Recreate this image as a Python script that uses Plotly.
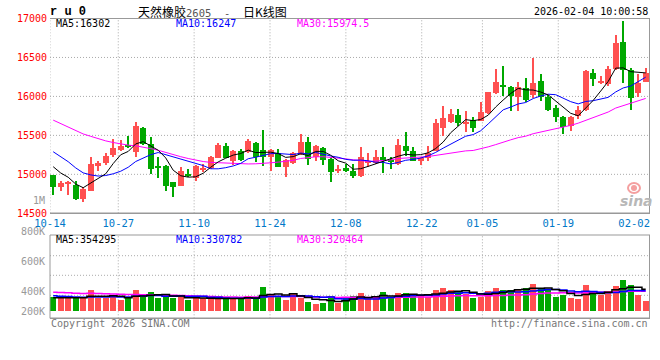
import numpy as np
import pandas as pd
import plotly.graph_objects as go

# ---------------- data ----------------
days = pd.bdate_range("2025-10-14", "2026-02-04")
days = [d for d in days if d.strftime("%Y-%m-%d") not in ("2026-01-01", "2026-01-02")]
dates = [d.strftime("%m-%d") for d in days]  # 80 trading days

open_ = [15004, 14842, 14885, 14876, 14684, 14790, 15111, 15149, 15256, 15325,
         15384, 15290, 15606, 15401, 15111, 15111, 14902, 14863, 15017, 14962,
         15068, 15085, 15218, 15376, 15184, 15312, 15290, 15414, 15320, 15226,
         15286, 15107, 15149, 15269, 15427, 15235, 15350, 15205, 15055, 15085,
         15043, 14979, 15149, 15149, 15226, 15192, 15141, 15376, 15312, 15184,
         15213, 15312, 15598, 15675, 15773, 15662, 15705, 15696, 15790, 16046,
         16157, 16131, 15995, 16114, 16029, 16208, 15995, 15858, 15747, 15632,
         15760, 15833, 16307, 16174, 16166, 16358, 16708, 16345, 16046, 16196]
high = [15004, 14927, 14927, 14927, 14842, 15226, 15184, 15282, 15461, 15453,
        15504, 15675, 15619, 15482, 15226, 15120, 14906, 15098, 15077, 15120,
        15141, 15248, 15410, 15410, 15320, 15333, 15461, 15427, 15581, 15329,
        15337, 15201, 15290, 15525, 15482, 15389, 15354, 15213, 15128, 15141,
        15141, 15354, 15282, 15320, 15363, 15226, 15461, 15555, 15363, 15226,
        15376, 15717, 15888, 15845, 15845, 15824, 15739, 15931, 16068, 16358,
        16401, 16144, 16196, 16243, 16499, 16294, 16029, 15901, 15760, 15760,
        15888, 16345, 16358, 16273, 16401, 16798, 16980, 16371, 16294, 16371]
low = [14735, 14790, 14735, 14671, 14650, 14790, 15047, 15132, 15235, 15312,
       15346, 15226, 15389, 15013, 14957, 14791, 14722, 14859, 14970, 14927,
       15034, 15077, 15213, 15213, 15132, 15184, 15278, 15162, 15111, 15047,
       15098, 14970, 15141, 15260, 15132, 15175, 15132, 14906, 15021, 15034,
       14957, 14970, 15098, 15141, 15021, 15077, 15132, 15248, 15175, 15120,
       15184, 15303, 15504, 15662, 15632, 15547, 15555, 15688, 15781, 16038,
       16016, 15824, 15816, 15939, 15986, 15952, 15824, 15675, 15525, 15568,
       15717, 15824, 16144, 16166, 16144, 16345, 16179, 15833, 16003, 16187]
close = [14842, 14898, 14906, 14684, 14812, 15141, 15149, 15248, 15342, 15376,
         15354, 15632, 15397, 15073, 15090, 14863, 14842, 15043, 14983, 15111,
         15090, 15226, 15389, 15218, 15312, 15192, 15440, 15235, 15235, 15320,
         15107, 15192, 15282, 15418, 15205, 15376, 15192, 15034, 15064, 15055,
         14983, 15226, 15184, 15235, 15192, 15162, 15389, 15312, 15184, 15218,
         15280, 15662, 15730, 15781, 15662, 15675, 15598, 15803, 16059, 16187,
         16123, 16016, 16131, 15965, 16174, 15995, 15833, 15739, 15611, 15739,
         15838, 16328, 16230, 16208, 16358, 16691, 16345, 15986, 16179, 16309]
volume = [234000, 207000, 207000, 218000, 223000, 343000, 207000, 218000, 250000, 180000,
          218000, 343000, 234000, 310000, 218000, 234000, 218000, 234000, 180000, 207000,
          218000, 190000, 218000, 190000, 207000, 207000, 250000, 207000, 397000, 277000,
          250000, 180000, 299000, 218000, 147000, 114000, 136000, 245000, 136000, 212000,
          245000, 299000, 207000, 207000, 310000, 207000, 299000, 299000, 256000, 245000,
          234000, 343000, 375000, 343000, 310000, 272000, 218000, 234000, 332000, 375000,
          343000, 343000, 343000, 375000, 445100, 354000, 354000, 234000, 261000, 218000,
          203345, 430000, 310000, 261000, 332000, 408000, 506000, 430000, 261000, 166475]

# sessions before the visible window (only feed the moving averages)
history_close = [16250, 16180, 16120, 16080, 16050, 16120, 16030, 15970, 15900, 15850,
                 15880, 15800, 15760, 15720, 15780, 15700, 15740, 15690, 15720, 15640,
                 15560, 15520, 15480, 15450, 15400, 15300, 15180, 15120, 15048]
history_volume = [360000, 340000, 380000, 320000, 300000, 350000, 330000, 310000, 370000, 290000,
                  340000, 320000, 360000, 300000, 330000, 310000, 350000, 320000, 340000, 330000,
                  300000, 270000, 290000, 260000, 290000, 220000, 200000, 226000, 210000]

y_ticks = [14500, 15000, 15500, 16000, 16500, 17000]
x_tick_labels = ["10-14", "10-27", "11-10", "11-24", "12-08", "12-22", "01-05", "01-19", "02-02"]
vol_tick_labels = ["800K", "600K", "400K", "200K"]

# ---------------- derived ----------------
n = len(close)
idx = np.arange(n)
def ma(hist, vals, k):
    s = pd.Series(list(hist) + list(vals)).rolling(k).mean().to_numpy()
    return s[len(hist):]
ma5, ma10, ma30 = (ma(history_close, close, k) for k in (5, 10, 30))
vma5, vma10, vma30 = (ma(history_volume, volume, k) for k in (5, 10, 30))

RED, GREEN = "#ff5050", "#00a800"
up = [c >= o for o, c in zip(open_, close)]
colors = [RED if u else GREEN for u in up]
body_base = [min(o, c) for o, c in zip(open_, close)]
body_h = [max(abs(c - o), 11) for o, c in zip(open_, close)]
wick_h = [h - l for h, l in zip(high, low)]

W, H = 660, 360
X0, X1 = 50, 649.5
PY0, PY1 = 18.5, 213.3
VY0, VY1 = 235, 318.3
def px(x): return x / W
def py(y): return 1 - y / H

step = 7.5
first_c = 53.2
xr = [(X0 - first_c) / step, (X1 - first_c) / step]
vol_per_px = 16300.0
vol_base_px = 311
vr = [-(VY1 - vol_base_px) * vol_per_px, (vol_base_px - VY0) * vol_per_px]

tick_idx = [dates.index(d) for d in x_tick_labels]
grid_scale = 1.0115
tick_pos = [i * grid_scale + xr[0] for i in tick_idx]

MONO = "DejaVu Sans Mono"
fig = go.Figure()
# price candles
fig.add_trace(go.Bar(x=idx, y=wick_h, base=low, width=0.14, marker=dict(color=colors, line=dict(width=0)),
                     xaxis="x", yaxis="y", hoverinfo="skip"))
fig.add_trace(go.Bar(x=idx, y=body_h, base=body_base, width=0.84, marker=dict(color=colors, line=dict(width=0)),
                     xaxis="x", yaxis="y", hoverinfo="skip"))
for vals, col in ((ma30, "#ff00ff"), (ma10, "#0000ff"), (ma5, "#000000")):
    fig.add_trace(go.Scatter(x=idx, y=vals, mode="lines", line=dict(color=col, width=1),
                             xaxis="x", yaxis="y", hoverinfo="skip"))
# volume
fig.add_trace(go.Bar(x=idx, y=volume, width=0.84, marker=dict(color=colors, line=dict(width=0)),
                     xaxis="x2", yaxis="y2", hoverinfo="skip"))
for vals, col in ((vma30, "#ff00ff"), (vma10, "#0000ff"), (vma5, "#000000")):
    fig.add_trace(go.Scatter(x=idx, y=vals, mode="lines", line=dict(color=col, width=1.5, shape="hvh"),
                             xaxis="x2", yaxis="y2", hoverinfo="skip"))

GRID = "#aaaaaa"
BORDER = "#999999"
DOT = "1px,2px"
shapes = []
for v in y_ticks[1:-1]:
    shapes.append(dict(type="line", xref="paper", yref="y", x0=px(X0), x1=px(X1), y0=v, y1=v,
                       line=dict(color=GRID, width=1, dash=DOT), layer="below"))
for p in tick_pos[:-1]:
    shapes.append(dict(type="line", xref="x", yref="paper", x0=p, x1=p, y0=py(PY1), y1=py(PY0),
                       line=dict(color=GRID, width=1, dash=DOT), layer="below"))
    if p > xr[0] + 0.5:
        shapes.append(dict(type="line", xref="x", yref="paper", x0=p, x1=p, y0=py(VY1), y1=py(VY0),
                           line=dict(color=GRID, width=1, dash=DOT), layer="below"))
for ypx in (255.7, 275.3, 295.3):
    shapes.append(dict(type="line", xref="paper", yref="paper", x0=px(X0), x1=px(X1), y0=py(ypx), y1=py(ypx),
                       line=dict(color=GRID, width=1, dash=DOT), layer="below"))
def hline(ypx, w=1):
    shapes.append(dict(type="line", xref="paper", yref="paper", x0=px(X0), x1=px(X1 + 0.5), y0=py(ypx), y1=py(ypx),
                       line=dict(color=BORDER, width=w)))
def vline(xpx, ya, yb):
    shapes.append(dict(type="line", xref="paper", yref="paper", x0=px(xpx), x1=px(xpx), y0=py(ya), y1=py(yb),
                       line=dict(color=BORDER, width=1)))
hline(PY0); hline(PY1, 1.5); vline(X1, PY0, PY1)
hline(VY0); hline(VY1, 1.5); vline(X1, VY0, VY1); vline(X0, VY0, VY1)
# sina logo eye
shapes.append(dict(type="circle", xref="paper", yref="paper", x0=px(628), x1=px(640), y0=py(193), y1=py(183),
                   line=dict(color="#f4a0a0", width=2), fillcolor="rgba(0,0,0,0)"))
shapes.append(dict(type="circle", xref="paper", yref="paper", x0=px(631), x1=px(637), y0=py(191), y1=py(185),
                   fillcolor="#f4a0a0", line=dict(width=0)))

ann = []
def text(x, y, s, color="#000", size=10, anchor="left", family=MONO, **kw):
    ann.append(dict(x=px(x), y=py(y), xref="paper", yref="paper", text=s, showarrow=False,
                    xanchor=anchor, yanchor="middle", font=dict(color=color, size=size, family=family), **kw))

text(48, 12, "<b>r u 0</b>", size=12, family="Liberation Mono")
text(212, 11, "天然橡胶<span style='font-family:DejaVu Sans Mono;font-size:10.5px;color:#555'>2605&nbsp;&nbsp;-&nbsp;&nbsp;</span>日K线图",
     size=12, anchor="center", family="Noto Sans CJK SC")
text(650, 12, "2026-02-04 10:00:58", size=10, anchor="right")
text(54, 24, f"MA5:{ma5[-1]:.0f}", size=10)
text(174, 24, f"MA10:{ma10[-1]:.0f}", "#0000ff", size=10)
text(295, 24, f"MA30:{ma30[-1]:.1f}", "#ff00ff", size=10)
text(54, 239, f"MA5:{vma5[-1]:.0f}", size=10)
text(174, 239, f"MA10:{vma10[-1]:.0f}", "#0000ff", size=10)
text(295, 239, f"MA30:{vma30[-1]:.0f}", "#ff00ff", size=10)
text(47, 200, "1M", "#999", size=10, anchor="right")
for lab, ypx in zip(vol_tick_labels, (231.5, 261, 291, 311)):
    text(47, ypx, lab, "#999", size=10, anchor="right")
text(49, 323, "Copyright 2026 SINA.COM", "#777", size=10)
text(650, 323.5, "http://finance.sina.com.cn", "#777", size=10, anchor="right")
text(636, 201, "<b><i>sina</i></b>", "#b8b8b8", size=14, anchor="center", family="DejaVu Sans")

fig.update_layout(
    width=W, height=H, margin=dict(l=0, r=0, t=0, b=0), paper_bgcolor="white", plot_bgcolor="white",
    showlegend=False, barmode="overlay", bargap=0, shapes=shapes, annotations=ann,
    xaxis=dict(domain=[px(X0), px(X1)], range=xr, anchor="y", showgrid=False, zeroline=False,
               tickmode="array", tickvals=tick_pos, ticktext=x_tick_labels, ticks="",
               tickfont=dict(family=MONO, size=10.5, color="#0078c8"), showline=False, automargin=False,
               ticklabelstandoff=2),
    yaxis=dict(domain=[py(PY1), py(PY0)], range=[14500, 17000], showgrid=False, zeroline=False,
               tickmode="array", tickvals=y_ticks, ticktext=[str(v) for v in y_ticks], ticks="",
               tickfont=dict(family=MONO, size=10, color="#ff0000"), showline=False, automargin=False,
               ticklabelstandoff=2),
    xaxis2=dict(domain=[px(X0), px(X1)], range=xr, anchor="y2", showgrid=False, zeroline=False,
                showticklabels=False, ticks="", automargin=False),
    yaxis2=dict(domain=[py(VY1), py(VY0)], range=vr, showgrid=False, zeroline=False,
                showticklabels=False, ticks="", automargin=False),
)
fig.write_html("out.html", config={"displayModeBar": False},
               post_script="document.body.style.margin='0';document.body.style.overflow='hidden';")
